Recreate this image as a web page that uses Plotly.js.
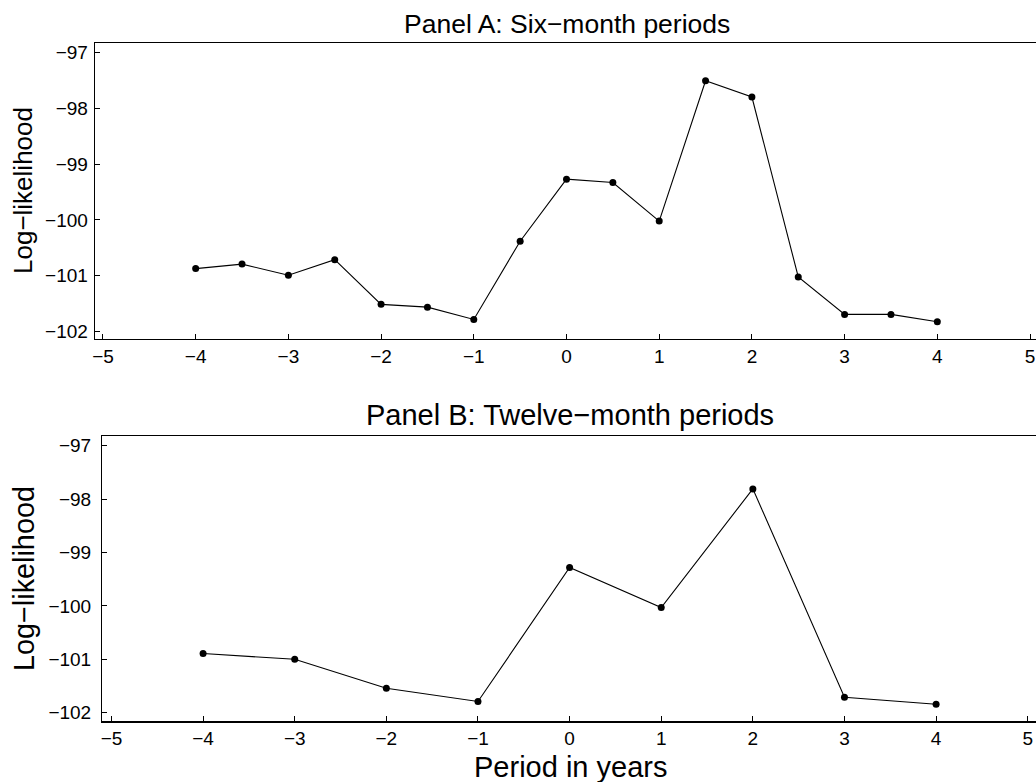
<!DOCTYPE html>
<html>
<head>
<meta charset="utf-8">
<script src="https://cdn.plot.ly/plotly-3.0.1.min.js"></script>
<style>
html,body{margin:0;padding:0;overflow:hidden;background:#fff;}
#chart{width:1040px;height:782px;}
</style>
</head>
<body>
<div id="chart"></div>
<script>
// Panel A: six-month periods
const periodsA = [-4, -3.5, -3, -2.5, -2, -1.5, -1, -0.5, 0, 0.5, 1, 1.5, 2, 2.5, 3, 3.5, 4];
const loglikA  = [-100.87, -100.79, -100.99, -100.71, -101.51, -101.56, -101.78, -100.38, -99.27, -99.33, -100.02, -97.51, -97.80, -101.02, -101.69, -101.69, -101.82];
// Panel B: twelve-month periods
const periodsB = [-4, -3, -2, -1, 0, 1, 2, 3, 4];
const loglikB  = [-100.89, -101.00, -101.54, -101.79, -99.28, -100.03, -97.81, -101.71, -101.84];
const xTicks = [-5, -4, -3, -2, -1, 0, 1, 2, 3, 4, 5];
const yTicks = [-102, -101, -100, -99, -98, -97];

const W = 1040, H = 782;
const FONT = 'Liberation Sans, Arial, Helvetica, sans-serif';

const lineStyle = {color: '#000', width: 1.1};
const markerStyle = {color: '#000', size: 7};

const traces = [
  {x: periodsA, y: loglikA, xaxis: 'x', yaxis: 'y', mode: 'lines+markers', line: lineStyle, marker: markerStyle, hoverinfo: 'x+y'},
  {x: periodsB, y: loglikB, xaxis: 'x2', yaxis: 'y2', mode: 'lines+markers', line: lineStyle, marker: markerStyle, hoverinfo: 'x+y'}
];

function xAx(domain, range, anchor) {
  return {
    domain: domain, range: range, anchor: anchor,
    tickmode: 'array', tickvals: xTicks,
    ticks: 'inside', ticklen: 5, tickwidth: 1, tickcolor: '#000',
    showline: true, linecolor: '#000', linewidth: 1.3, mirror: true,
    showgrid: false, zeroline: false,
    tickfont: {family: FONT, size: 19, color: '#000'},
    fixedrange: true
  };
}
function yAx(domain, range, anchor, standoff) {
  return {
    domain: domain, range: range, anchor: anchor,
    tickmode: 'array', tickvals: yTicks,
    ticks: 'inside', ticklen: 5, tickwidth: 1, tickcolor: '#000',
    showline: true, linecolor: '#000', linewidth: 1.3, mirror: true,
    showgrid: false, zeroline: false,
    tickfont: {family: FONT, size: 19, color: '#000'},
    ticklabelstandoff: standoff,
    fixedrange: true
  };
}

const layout = {
  width: W, height: H,
  margin: {l: 0, r: 0, t: 0, b: 0},
  paper_bgcolor: '#fff', plot_bgcolor: '#fff',
  showlegend: false,
  xaxis:  xAx([95/W, 1038/W], [-5.086, 5.086], 'y'),
  yaxis:  yAx([1-339/H, 1-43/H], [-102.13, -96.834], 'x', 2),
  xaxis2: xAx([102.3/W, 1036.9/W], [-5.1, 5.1], 'y2'),
  yaxis2: yAx([1-721.3/H, 1-436/H], [-102.16, -96.82], 'x2', 6),
  annotations: [
    {text: 'Panel A: Six\u2212month periods', xref: 'paper', yref: 'paper', x: 566.5/W, y: 1-24/H, xanchor: 'center', yanchor: 'middle', showarrow: false, font: {family: FONT, size: 26.5, color: '#000'}},
    {text: 'Panel B: Twelve\u2212month periods', xref: 'paper', yref: 'paper', x: 569.5/W, y: 1-415/H, xanchor: 'center', yanchor: 'middle', showarrow: false, font: {family: FONT, size: 29, color: '#000'}},
    {text: 'Log\u2212likelihood', xref: 'paper', yref: 'paper', x: 23/W, y: 1-191/H, xanchor: 'center', yanchor: 'middle', textangle: -90, showarrow: false, font: {family: FONT, size: 26, color: '#000'}},
    {text: 'Log\u2212likelihood', xref: 'paper', yref: 'paper', x: 24/W, y: 1-579/H, xanchor: 'center', yanchor: 'middle', textangle: -90, showarrow: false, font: {family: FONT, size: 28.8, color: '#000'}},
    {text: 'Period in years', xref: 'paper', yref: 'paper', x: 570/W, y: 1-767/H, xanchor: 'center', yanchor: 'middle', showarrow: false, font: {family: FONT, size: 29, color: '#000'}}
  ]
};

Plotly.newPlot('chart', traces, layout, {displayModeBar: false, staticPlot: true});
</script>
</body>
</html>
